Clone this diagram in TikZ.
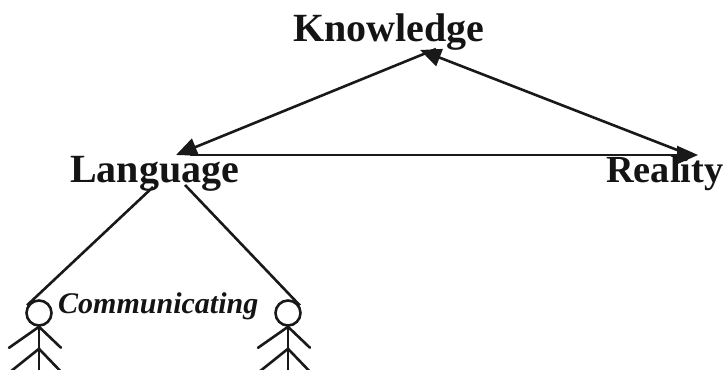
\documentclass[tikz,border=0pt]{standalone}
\usepackage{fontspec}
\setmainfont{Liberation Serif}
\usetikzlibrary{arrows.meta}
\tikzset{
  x=1pt,y=1pt,
  title/.style={font=\fontsize{40}{40}\selectfont\bfseries,anchor=base west,inner sep=0pt,text=black!92},
  talk/.style={font=\fontsize{30}{30}\selectfont\bfseries\itshape,anchor=base west,inner sep=0pt,text=black!92},
  link/.style={line width=2.6pt,black!90},
  arrowlink/.style={line width=2.6pt,black!90,-{Triangle[length=21pt,width=18pt]}},
  headc/.style={circle,draw=black!90,line width=2.6pt,minimum size=25pt,inner sep=0pt},
  limb/.style={line width=2.6pt,black!90,line cap=round}
}
\begin{document}
\begin{tikzpicture}
\useasboundingbox (0,0) rectangle (727,369);
\clip (0,0) rectangle (727,369);
\node[title] (know) at (293,327) {Knowledge};
\node[title] (lang) at (70,186) {Language};
\node[title,font=\fontsize{38.3}{38}\selectfont\bfseries] (real) at (606,186) {Reality};
\node[talk] (comm) at (58,56) {Communicating};
\node[headc] (h1) at (39,56) {};
\node[headc] (h2) at (288,56) {};
\coordinate (ka) at (436,320);
\coordinate (kt) at (420,319);
\coordinate (lt) at (176,214);
\coordinate (lh) at (190,214);
\coordinate (rs) at (690,214);
\coordinate (rt) at (698,214);
\coordinate (la) at (153,182);
\coordinate (lb) at (185,184);
\draw[arrowlink] (ka) -- (lt);
\draw[arrowlink] (lh) -- (rt);
\draw[arrowlink] (rs) -- (kt);
\draw[link,shorten >=-3pt] (la) -- (h1.135);
\draw[link,shorten >=-3pt] (lb) -- (h2.45);
\foreach \h in {h1,h2}{
  \draw[limb] (\h.south) -- ++(0,-50);
  \draw[limb] ([shift={(-30,-21)}]\h.south) -- (\h.south) -- ([shift={(22,-21)}]\h.south);
  \draw[limb] ([shift={(-30,-46)}]\h.south) -- ([shift={(0,-22)}]\h.south) -- ([shift={(23,-46)}]\h.south);
}
\end{tikzpicture}
\end{document}
